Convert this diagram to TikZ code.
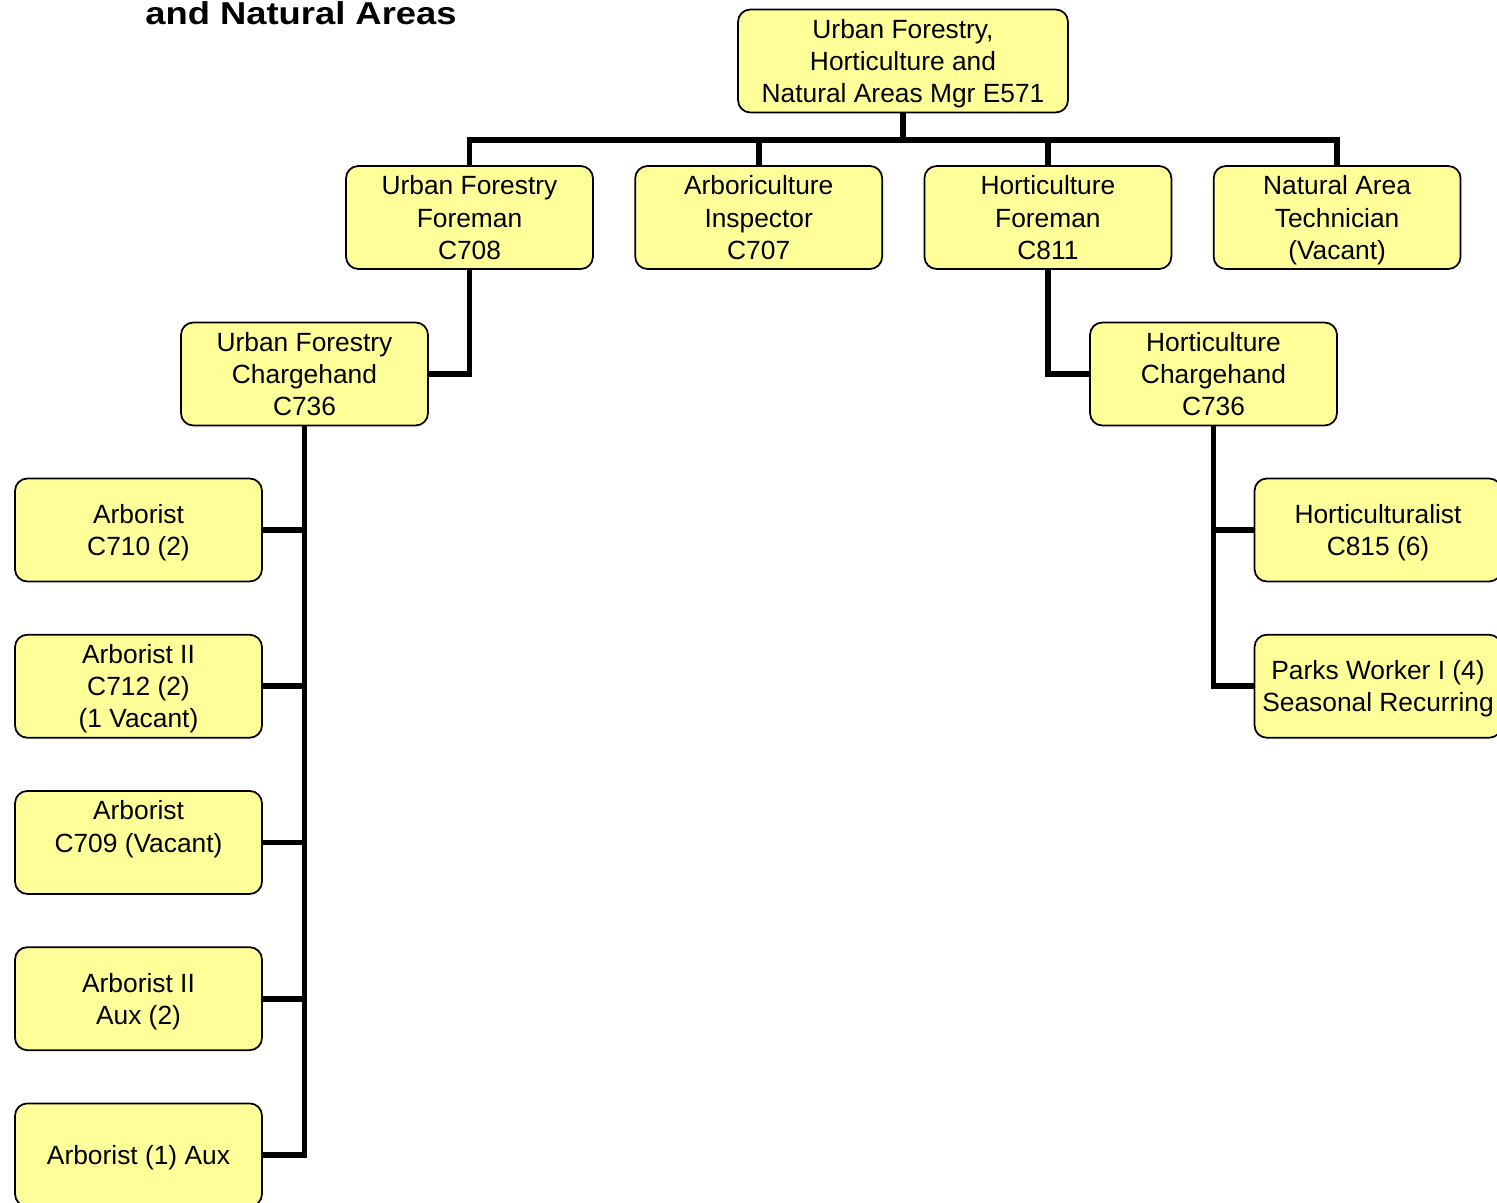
\documentclass[tikz,border=0pt]{standalone}
\usepackage{fontspec}
\setmainfont{Liberation Sans}
\usepackage{xcolor}
\definecolor{boxyellow}{HTML}{FFFF99}
\usetikzlibrary{positioning}

\begin{document}
\begin{tikzpicture}[
  x=0.02cm,y=-0.02cm,
  node distance=0.81cm,
  post/.style={draw=black,line width=1pt,rounded corners=7pt,fill=boxyellow,align=center,minimum width=4.94cm,minimum height=2.06cm,inner sep=1pt,text depth=0pt,font=\fontsize{15}{18.3}\selectfont},
  link/.style={line width=3.3pt,draw=black}
]
\useasboundingbox (0,0) rectangle (1497,1203);
\node[anchor=base west,inner sep=0pt] (title) at (145,25) {\scalebox{1.15}[1]{\fontsize{18}{21}\selectfont\bfseries and Natural Areas}};
\node[post,minimum width=6.6cm] (mgr) at (903,61) {Urban Forestry,\\Horticulture and\\Natural Areas Mgr E571};
\node[post] (ufforeman) at (469.5,217.5) {Urban Forestry\\Foreman\\C708};
\node[post,right=of ufforeman] (arbinsp) {Arboriculture\\Inspector\\C707};
\node[post,right=of arbinsp] (hortforeman) {Horticulture\\Foreman\\C811};
\node[post,right=of hortforeman] (natural) {Natural Area\\Technician\\(Vacant)};
\node[post] (ufcharge) at (304.5,374) {Urban Forestry\\Chargehand\\C736};
\node[post] (hortcharge) at (1213.5,374) {Horticulture\\Chargehand\\C736};
\node[post] (arb1) at (138.5,530) {Arborist\\C710 (2)};
\node[post,below=1.03cm of arb1] (arb2) {Arborist II\\C712 (2)\\(1 Vacant)};
\node[post,below=1.03cm of arb2] (arb3) {Arborist\\C709 (Vacant)\\\mbox{}};
\node[post,below=1.03cm of arb3] (arb4) {Arborist II\\Aux (2)};
\node[post,below=1.03cm of arb4] (arb5) {Arborist (1) Aux};
\node[post] (hortist) at (1378,530) {Horticulturalist\\C815 (6)};
\node[post,below=1.03cm of hortist] (parks) {Parks Worker I (4)\\Seasonal Recurring};
\coordinate (bus) at (903,140);
\draw[link] (mgr.south) -- (bus);
\draw[link] (ufforeman.north) |- (bus) -| (natural.north);
\draw[link] (arbinsp.north) -- (arbinsp.north |- bus);
\draw[link] (hortforeman.north) -- (hortforeman.north |- bus);
\draw[link] (ufforeman.south) |- (ufcharge.east);
\draw[link] (hortforeman.south) |- (hortcharge.west);
\draw[link] (ufcharge.south) |- (arb5.east);
\foreach \n in {arb1,arb2,arb3,arb4}
  \draw[link] (\n.east) -- (\n.east -| ufcharge.south);
\draw[link] (hortcharge.south) |- (parks.west);
\draw[link] (hortist.west) -- (hortist.west -| hortcharge.south);
\end{tikzpicture}
\end{document}
